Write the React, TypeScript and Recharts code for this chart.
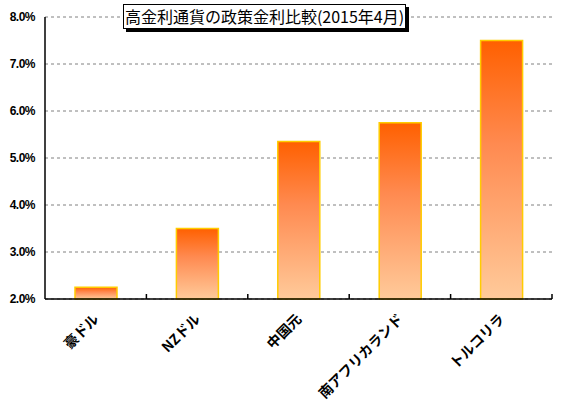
import { Bar, BarChart, CartesianGrid, XAxis, YAxis } from "recharts";

const currencies = ["豪ドル", "NZドル", "中国元", "南アフリカランド", "トルコリラ"];
const policyRates = [2.25, 3.5, 5.35, 5.75, 7.5];
const yTicks = [2, 3, 4, 5, 6, 7, 8];
const title = "高金利通貨の政策金利比較(2015年4月)";

const data = currencies.map((name, i) => ({ name, rate: policyRates[i] }));

// rotated label plus a small upward mark at the right edge of each category band
const CategoryTick = (props: any) => {
  const { x, y, payload } = props;
  const half = payload?.offset ?? 0;
  const tx = x + 4;
  const ty = y + 21;
  return (
    <g>
      <line x1={x + half} x2={x + half} y1={y - 5} y2={y} stroke="#000" strokeWidth={1.5} />
      <text
        x={tx}
        y={ty}
        transform={`rotate(-45, ${tx}, ${ty})`}
        textAnchor="end"
        fontFamily="'Noto Sans CJK JP', sans-serif"
        fontWeight="bold"
        fontSize={14}
        fill="#000"
      >
        {payload.value}
      </text>
    </g>
  );
};

export default function App() {
  return (
    <div style={{ position: "absolute", left: 0, top: 0, width: 567, height: 407, background: "#fff" }}>
      <BarChart
        width={567}
        height={407}
        data={data}
        margin={{ top: 17, right: 15, bottom: 0, left: 0 }}
        barSize={42}
      >
        <defs>
          <linearGradient id="barFill" x1="0" y1="0" x2="0" y2="1">
            <stop offset="0%" stopColor="#FF6000" />
            <stop offset="40%" stopColor="#FF8A50" />
            <stop offset="100%" stopColor="#FFCA9A" />
          </linearGradient>
        </defs>
        <CartesianGrid vertical={false} stroke="#808080" strokeDasharray="3 3" />
        <XAxis
          dataKey="name"
          interval={0}
          height={108}
          tickLine={false}
          tickSize={0}
          tickMargin={0}
          tick={<CategoryTick />}
          stroke="#000"
          strokeWidth={1.5}
        />
        <YAxis
          domain={[2, 8]}
          ticks={yTicks}
          width={45}
          tickLine={false}
          stroke="#000"
          strokeWidth={1.5}
          tickFormatter={(v: number) => `${v.toFixed(1)}%`}
          tick={{ fill: "#000", fontSize: 12, fontWeight: "bold", fontFamily: "'Liberation Sans', Arial, sans-serif", letterSpacing: -0.5 }}
          tickMargin={4}
        />
        <Bar
          dataKey="rate"
          fill="url(#barFill)"
          stroke="#FFCC00"
          strokeWidth={1.5}
          isAnimationActive={false}
        />
      </BarChart>
      <div
        style={{
          position: "absolute",
          left: 123,
          top: 4,
          width: 281,
          height: 23,
          border: "1px solid #000",
          boxShadow: "3px 3px 0 #000",
          background: "#fff",
          fontFamily: "'Noto Sans CJK JP', sans-serif",
          fontSize: 16,
          lineHeight: "23px",
          textAlign: "center",
          whiteSpace: "nowrap",
        }}
      >
        {title}
      </div>
    </div>
  );
}
